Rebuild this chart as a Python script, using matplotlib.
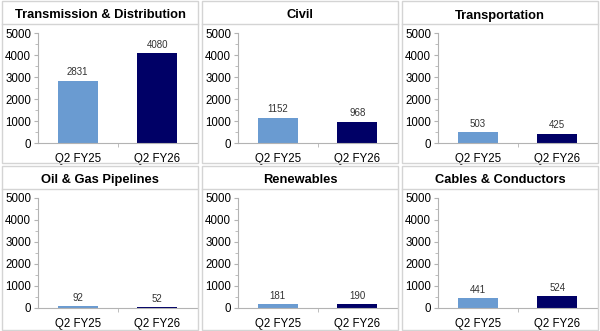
import matplotlib
matplotlib.use("Agg")
import matplotlib.pyplot as plt
from matplotlib.patches import Rectangle
from matplotlib.lines import Line2D
from matplotlib.ticker import MultipleLocator

plt.rcParams['font.family'] = ['Liberation Sans', 'DejaVu Sans']

# data
titles = ['Transmission & Distribution', 'Civil', 'Transportation',
          'Oil & Gas Pipelines', 'Renewables', 'Cables & Conductors']
periods = ['Q2 FY25', 'Q2 FY26']
fy25 = [2831, 1152, 503, 92, 181, 441]
fy26 = [4080, 968, 425, 52, 190, 524]
colors = ['#6a9bd1', '#000066']

W, H = 600, 331
fig = plt.figure(figsize=(W / 100, H / 100), dpi=100)

def fx(px):
    return px / W

def fy(py):
    return 1 - py / H

col_x = [(2, 198), (202, 398), (402, 598)]
row_y = [(1, 163), (166, 330)]
edge = '#d4d4d4'

for i, title in enumerate(titles):
    r, c = divmod(i, 3)
    x0, x1 = col_x[c]
    y0, y1 = row_y[r]

    # panel frame + title band
    fig.patches.append(Rectangle((fx(x0), fy(y1)), fx(x1 - x0), (y1 - y0) / H,
                                 transform=fig.transFigure, fill=False,
                                 edgecolor=edge, lw=1))
    fig.lines.append(Line2D([fx(x0), fx(x1)], [fy(y0 + 23), fy(y0 + 23)],
                            transform=fig.transFigure, color=edge, lw=1))
    fig.text(fx((x0 + x1) / 2), fy(y0 + 14.5), title, ha='center', va='center',
             fontsize=9.3, fontweight='bold')

    # chart axes
    ax_left, ax_right = x0 + 36, x1 - 1
    ax_top, ax_bot = y0 + 32, y0 + 142
    ax = fig.add_axes([fx(ax_left), fy(ax_bot), fx(ax_right - ax_left),
                       (ax_bot - ax_top) / H])
    vals = [fy25[i], fy26[i]]
    bars = ax.bar([0, 1], vals, width=0.5, color=colors)
    for b, v in zip(bars, vals):
        ax.text(b.get_x() + b.get_width() / 2, v + 150, str(v),
                ha='center', va='bottom', fontsize=7, color='#333333')
    ax.set_xlim(-0.5, 1.5)
    ax.set_ylim(0, 5000)
    ax.yaxis.set_major_locator(MultipleLocator(1000))
    ax.yaxis.set_minor_locator(MultipleLocator(500))
    ax.set_xticks([0, 1])
    ax.set_xticklabels(periods)
    ax.set_xticks([0.5], minor=True)
    ax.tick_params(axis='x', which='major', length=0, labelsize=8.3, pad=7)
    ax.tick_params(axis='x', which='minor', length=3, color='#b3b3b3')
    ax.tick_params(axis='y', which='major', length=3, color='#b3b3b3',
                   labelsize=8.3, pad=2)
    ax.tick_params(axis='y', which='minor', length=2, color='#b3b3b3')
    for s in ['top', 'right']:
        ax.spines[s].set_visible(False)
    for s in ['left', 'bottom']:
        ax.spines[s].set_color('#b3b3b3')
        ax.spines[s].set_linewidth(0.8)
    ax.set_facecolor('none')

fig.savefig('out.png', dpi=100, facecolor='white')
